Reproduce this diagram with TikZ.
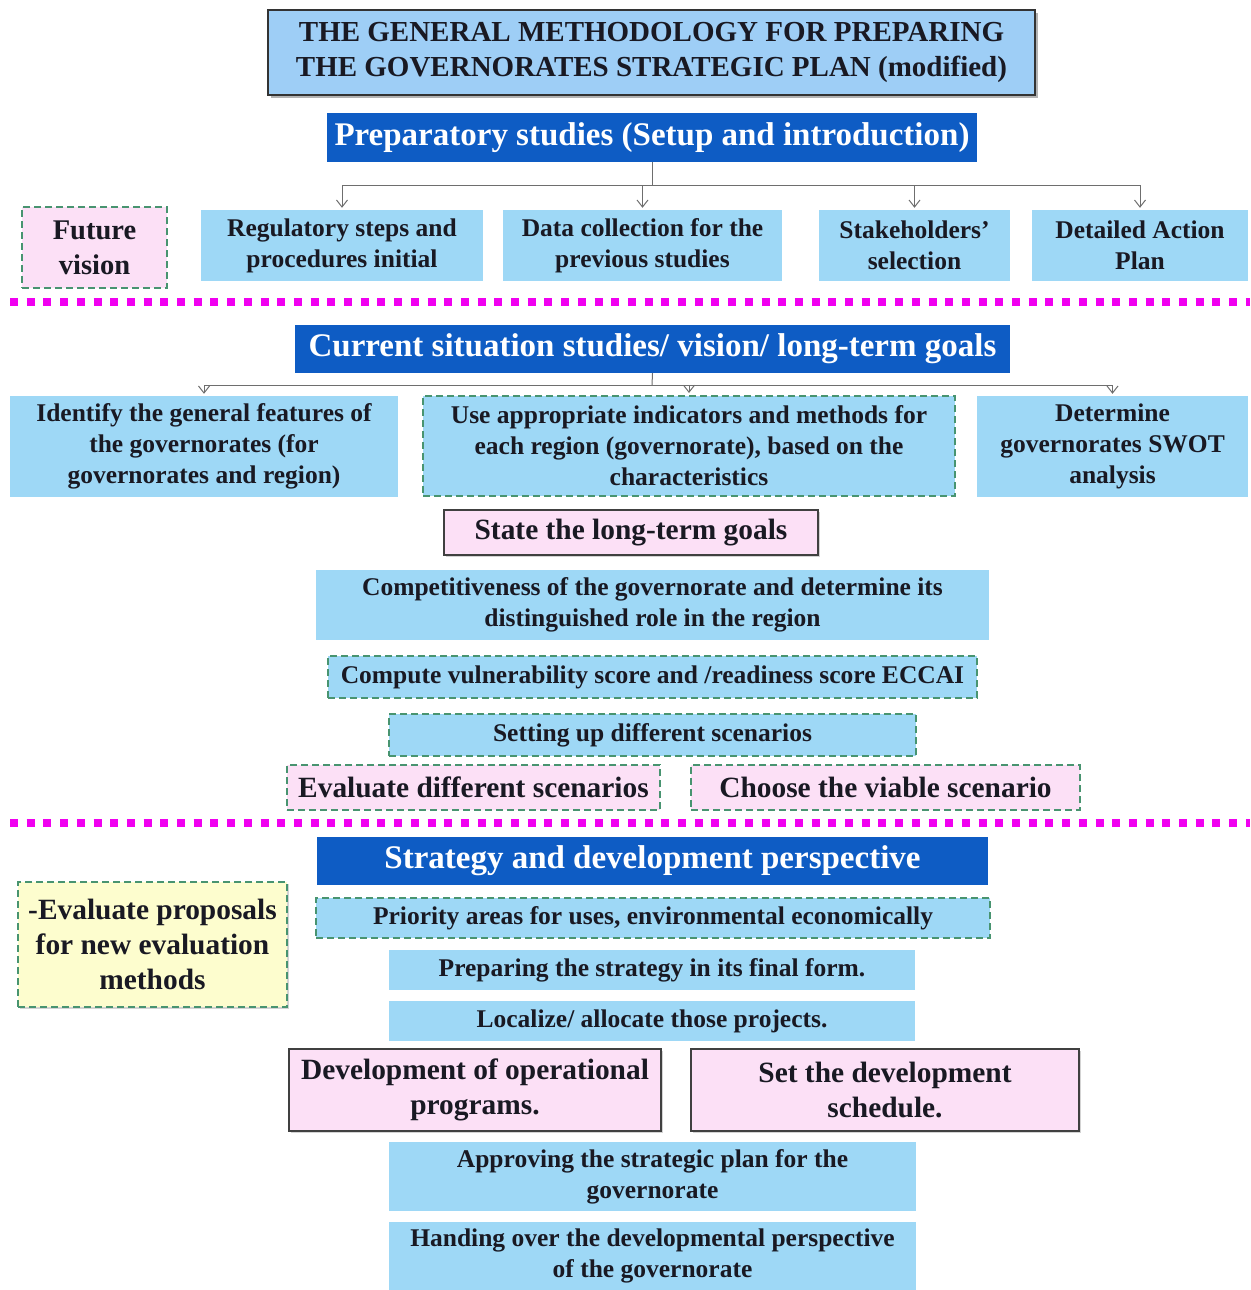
\documentclass[tikz,border=0pt]{standalone}
\usepackage{fontspec}
\setmainfont{Liberation Serif}
\usetikzlibrary{shadows,arrows.meta}

\definecolor{lightbox}{RGB}{158,216,246}
\definecolor{titlefill}{RGB}{158,206,246}
\definecolor{headblue}{RGB}{14,92,196}
\definecolor{pinkfill}{RGB}{252,224,246}
\definecolor{yellowfill}{RGB}{253,253,206}
\definecolor{dashgreen}{RGB}{72,148,112}
\definecolor{sepmagenta}{RGB}{240,0,240}
\definecolor{linkgray}{RGB}{110,110,110}
\definecolor{inkblack}{RGB}{25,25,35}

\begin{document}
\begin{tikzpicture}[x=1pt, y=-1pt,
  box/.style={inner sep=0pt, align=center, text=inkblack,
    font=\bfseries\fontsize{25.5}{31}\selectfont},
  plain/.style={box, fill=lightbox},
  dashbox/.style={box, fill=lightbox, draw=dashgreen, line width=2pt,
    dash pattern=on 7pt off 4pt},
  pinkdash/.style={dashbox, fill=pinkfill},
  pinkbox/.style={box, fill=pinkfill, draw=black!75, line width=1.5pt,
    drop shadow={shadow xshift=2pt, shadow yshift=-2pt, opacity=0.35}},
  head/.style={box, fill=headblue, text=white,
    font=\bfseries\fontsize{33}{38}\selectfont},
  big/.style={font=\bfseries\fontsize{29.4}{35}\selectfont},
  link/.style={draw=linkgray, line width=1pt},
  tip/.style={link, -{Straight Barb[length=7pt, width=11pt]}, shorten >=2pt},
  sep/.style={draw=sepmagenta, line width=8pt, dash pattern=on 8pt off 8.7pt}]
\useasboundingbox (0,0) rectangle (1250,1290);

% title and first stage
\node[box, fill=titlefill, draw=black!80, line width=2pt,
  minimum width=767, minimum height=85,
  font=\bfseries\fontsize{29}{35}\selectfont,
  drop shadow={shadow xshift=3pt, shadow yshift=-3pt, opacity=0.6}]
  (title) at (651.5,52.5) {THE GENERAL METHODOLOGY FOR PREPARING\\
  THE GOVERNORATES STRATEGIC PLAN (modified)};
\node[head, minimum width=650, minimum height=49] (prep) at (652,137.5)
  {Preparatory studies (Setup and introduction)};

\node[pinkdash, font=\bfseries\fontsize{28.5}{35}\selectfont,
  minimum width=145, minimum height=81] (future)
  at (94.5,247.5) {Future\\vision};
\node[plain, minimum width=282, minimum height=71] (reg) at (342,245.5)
  {Regulatory steps and\\procedures  initial};
\node[plain, minimum width=279, minimum height=71] (data) at (642.5,245.5)
  {Data collection for the\\previous studies};
\node[plain, minimum width=191, minimum height=71] (stake) at (914.5,245.5)
  {Stakeholders'\\selection};
\node[plain, minimum width=216, minimum height=71] (detail) at (1140,245.5)
  {Detailed Action\\Plan};

\coordinate (bus1) at (652,185);
\draw[link] (prep.south) -- (bus1);
\draw[link] (reg.north |- bus1) -- (detail.north |- bus1);
\foreach \n in {reg, data, stake, detail}
  \draw[tip] (\n.north |- bus1) -- (\n.north);

\draw[sep] (10,302) -- (1250,302);

% second stage
\node[head, minimum width=715, minimum height=48] (cur) at (652.5,349)
  {Current situation studies/ vision/ long-term goals};
\node[plain, minimum width=388, minimum height=101] (ident) at (204,446.5)
  {Identify the general features of\\the governorates  (for\\governorates  and region)};
\node[dashbox, minimum width=532, minimum height=100] (use) at (689,446)
  {Use appropriate  indicators and methods for\\each region (governorate), based on the\\characteristics};
\node[plain, minimum width=271, minimum height=101] (swot) at (1112.5,446.5)
  {Determine\\governorates  SWOT\\analysis};

\coordinate (bus2) at (652,385);
\draw[link] (cur.south) -- (bus2);
\draw[link] (ident.north |- bus2) -- (swot.north |- bus2);
\foreach \n in {ident, use, swot}
  \draw[tip] (\n.north |- bus2) -- (\n.north);

\node[pinkbox, big, minimum width=374, minimum height=45] (goals) at (631,532.5)
  {State the long-term goals};
\node[plain, minimum width=673, minimum height=70] (compet) at (652.5,605)
  {Competitiveness of the governorate and determine its\\distinguished role in the region};
\node[dashbox, minimum width=649, minimum height=42] (vuln) at (652.5,677)
  {Compute vulnerability score and /readiness score ECCAI};
\node[dashbox, minimum width=527, minimum height=42] (setup) at (652.5,735)
  {Setting up different scenarios};
\node[pinkdash, big, minimum width=373, minimum height=45] (evalsc) at (473.5,787.5)
  {Evaluate different scenarios};
\node[pinkdash, big, minimum width=389, minimum height=45] (choose) at (885.5,787.5)
  {Choose the viable scenario};

\draw[sep] (10,823) -- (1250,823);

% third stage
\node[head, minimum width=671, minimum height=48] (strat) at (652.5,861)
  {Strategy and development perspective};
\node[dashbox, big, fill=yellowfill, minimum width=269, minimum height=125,
  drop shadow={shadow xshift=2pt, shadow yshift=-2pt, opacity=0.35}]
  (proposals) at (152.5,944.5)
  {-Evaluate proposals\\for new evaluation\\methods};
\node[dashbox, minimum width=674, minimum height=40] (priority) at (653,918)
  {Priority areas for uses, environmental economically};
\node[plain, minimum width=526, minimum height=40] (final) at (652,970)
  {Preparing the strategy in its final form.};
\node[plain, minimum width=526, minimum height=40] (localize) at (652,1021)
  {Localize/ allocate  those projects.};
\node[pinkbox, big, minimum width=372, minimum height=82] (oper) at (475,1090)
  {Development of operational\\programs.};
\node[pinkbox, big, minimum width=388, minimum height=82] (sched) at (885,1090)
  {Set the development\\schedule.};
\node[plain, minimum width=527, minimum height=69] (approve) at (652.5,1176.5)
  {Approving  the strategic plan for the\\governorate};
\node[plain, minimum width=527, minimum height=68] (handing) at (652.5,1256)
  {Handing over the developmental perspective\\of the governorate};
\end{tikzpicture}
\end{document}
